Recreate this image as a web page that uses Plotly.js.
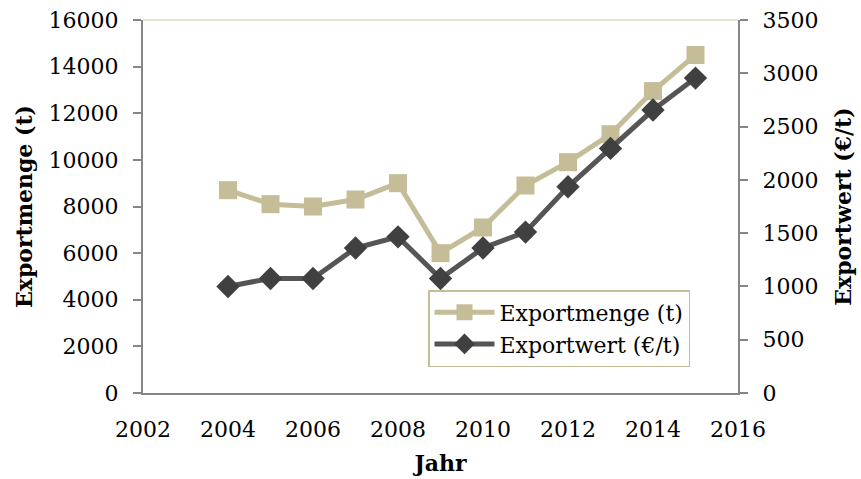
<!DOCTYPE html>
<html>
<head>
<meta charset="utf-8">
<script src="https://cdn.plot.ly/plotly-3.0.1.min.js"></script>
<style>html,body{margin:0;padding:0;background:#fff;}#chart{width:861px;height:479px;}</style>
</head>
<body>
<div id="chart"></div>
<script>
const years = [2004, 2005, 2006, 2007, 2008, 2009, 2010, 2011, 2012, 2013, 2014, 2015];
const exportmenge = [8700, 8100, 8000, 8300, 9000, 6000, 7100, 8900, 9900, 11100, 12950, 14500];
const exportwert = [1000, 1075, 1075, 1360, 1465, 1075, 1360, 1510, 1935, 2295, 2655, 2955];
const seriesNames = ["Exportmenge (t)", "Exportwert (€/t)"];
const xTitle = "Jahr";
const y1Title = "Exportmenge (t)";
const y2Title = "Exportwert (€/t)";

const FONT = "DejaVu Serif";
const FS = 22;
const traces = [
  {
    x: years, y: exportmenge, name: seriesNames[0], type: "scatter", mode: "lines+markers",
    line: {color: "#C4BD97", width: 5},
    marker: {symbol: "square", size: 18, color: "#C4BD97"},
    yaxis: "y"
  },
  {
    x: years, y: exportwert, name: seriesNames[1], type: "scatter", mode: "lines+markers",
    line: {color: "#555555", width: 5},
    marker: {symbol: "diamond", size: 18, color: "#404040"},
    yaxis: "y2"
  }
];
const layout = {
  width: 861, height: 479,
  margin: {l: 143, r: 123, t: 20, b: 86},
  paper_bgcolor: "#fff", plot_bgcolor: "#fff",
  font: {family: FONT, size: FS, color: "#000"},
  showlegend: true,
  legend: {
    x: 0.479, y: 0.276, xanchor: "left", yanchor: "top",
    bgcolor: "#fff", bordercolor: "#C4BD97", borderwidth: 1.5,
    font: {family: FONT, size: FS, color: "#000"},
    tracegroupgap: 0, itemwidth: 60
  },
  xaxis: {
    range: [2002, 2016], dtick: 2, tick0: 2002,
    showgrid: false, zeroline: false,
    showline: true, linecolor: "#868686", linewidth: 2,
    ticks: "", ticklen: 0, ticklabelstandoff: 16,
    tickfont: {family: FONT, size: FS},
    title: {text: xTitle, font: {family: FONT, size: FS, weight: "bold"}, standoff: 14}
  },
  yaxis: {
    range: [0, 16000], dtick: 2000, tickformat: "d",
    showgrid: false, zeroline: false,
    showline: true, linecolor: "#868686", linewidth: 2,
    ticks: "outside", ticklen: 8, tickcolor: "#868686", tickwidth: 2, ticklabelstandoff: 10,
    tickfont: {family: FONT, size: FS},
    title: {text: y1Title, font: {family: FONT, size: FS, weight: "bold"}, standoff: 10}
  },
  yaxis2: {
    range: [0, 3500], dtick: 500, tickformat: "d", overlaying: "y", side: "right",
    showgrid: false, zeroline: false,
    showline: true, linecolor: "#868686", linewidth: 2,
    ticks: "outside", ticklen: 8, tickcolor: "#868686", tickwidth: 2, ticklabelstandoff: 10,
    tickfont: {family: FONT, size: FS},
    title: {text: y2Title, font: {family: FONT, size: FS, weight: "bold"}, standoff: 18}
  },
  shapes: [
    {type: "line", xref: "paper", yref: "paper", x0: 0, x1: 1, y0: 1, y1: 1, line: {color: "#DDD9C3", width: 1.5}}
  ]
};
Plotly.newPlot("chart", traces, layout, {displayModeBar: false, staticPlot: true});
</script>
</body>
</html>
